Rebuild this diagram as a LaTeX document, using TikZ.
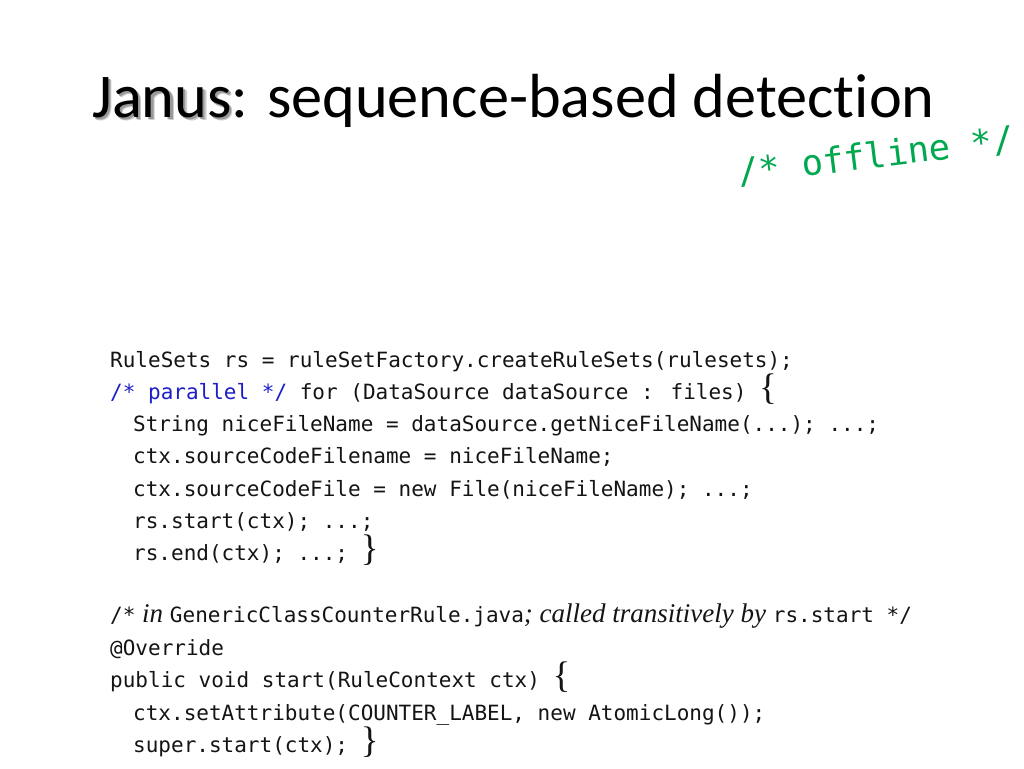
\documentclass[tikz,border=0pt]{standalone}
\usepackage{fontspec}
\setmainfont{Carlito}[Ligatures={NoCommon}]
\newfontfamily\codefont{DejaVu Sans Mono}
\newfontfamily\offfont{DejaVu Sans Mono}
\newfontfamily\serifont{Liberation Serif}
\definecolor{offgreen}{RGB}{0,168,80}
\definecolor{parblue}{RGB}{30,30,200}
\newcommand\cbrace[1]{{\serifont\fontsize{37}{40}\selectfont#1}}
\newcommand\itx[1]{{\serifont\itshape\fontsize{27}{30}\selectfont#1}}
\begin{document}
\begin{tikzpicture}[x=1pt,y=1pt,
  titletext/.style={anchor=base west, inner sep=0pt, font=\fontsize{62.3}{70}\selectfont},
  codeline/.style={anchor=base west, inner sep=0pt, font=\codefont\fontsize{21}{24}\selectfont, text=black!92},
  offnote/.style={inner sep=0pt, rotate=7, font=\offfont\fontsize{35.5}{40}\selectfont, text=offgreen}]
\fill[white] (0,0) rectangle (1024,-768);
\useasboundingbox (0,0) rectangle (1024,-768);
% title with shadow on "Janus"
\node[titletext, text=black!20] (shadowb) at (95.5,-120.5) {Janus};
\node[titletext, text=black!40] (shadowa) at (94.3,-119.3) {Janus};
\node[titletext] (title) at (92,-117) {Janus: sequence-based detection};
\node[offnote] (offline) at (876,-156) {/* offline */};
% first block
\node[codeline] (l1) at (110,-367) {RuleSets rs = ruleSetFactory.createRuleSets(rulesets);};
\node[codeline] (l2) at (110,-399) {\textcolor{parblue}{/* parallel */} for (DataSource dataSource : files) \cbrace{\{}};
\node[codeline] (l3) at (133,-431.5) {String niceFileName = dataSource.getNiceFileName(...); ...;};
\node[codeline] (l4) at (133,-463.5) {ctx.sourceCodeFilename = niceFileName;};
\node[codeline] (l5) at (133,-496) {ctx.sourceCodeFile = new File(niceFileName); ...;};
\node[codeline] (l6) at (133,-528) {rs.start(ctx); ...;};
\node[codeline] (l7) at (133,-560) {rs.end(ctx); ...; \cbrace{\}}};
% second block
\node[codeline] (m1) at (110,-622) {/*\itx{ in }GenericClassCounterRule.java\itx{; called transitively by }rs.start */};
\node[codeline] (m2) at (110,-655) {@Override};
\node[codeline] (m3) at (110,-687) {public void start(RuleContext ctx) \cbrace{\{}};
\node[codeline] (m4) at (133,-720) {ctx.setAttribute(COUNTER\_LABEL, new AtomicLong());};
\node[codeline] (m5) at (133,-752) {super.start(ctx); \cbrace{\}}};
\end{tikzpicture}
\end{document}
